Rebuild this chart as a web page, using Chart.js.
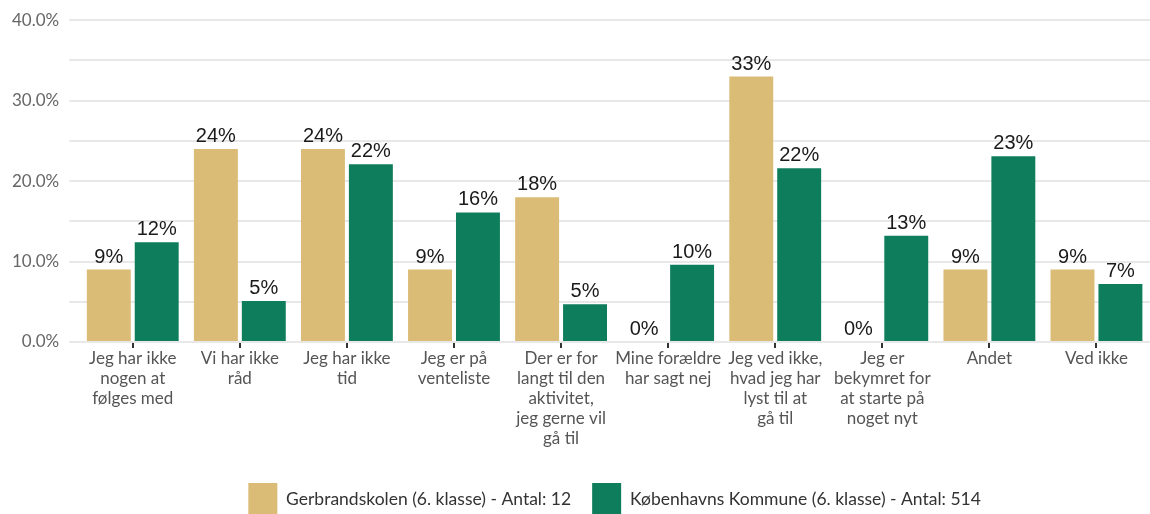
<!DOCTYPE html>
<html>
<head>
<meta charset="utf-8">
<script src="https://cdn.jsdelivr.net/npm/chart.js@4.4.1/dist/chart.umd.min.js"></script>
<style>
  html, body { margin: 0; padding: 0; background: #fff; overflow: hidden; }
  #wrap { width: 1150px; height: 525px; position: relative; }
</style>
</head>
<body>
<div id="wrap"><canvas id="myChart"></canvas></div>
<script>
// svarkategorier (linjeskift som i aksen)
const kategorier = [
  ['Jeg har ikke', 'nogen at', 'følges med'],
  ['Vi har ikke', 'råd'],
  ['Jeg har ikke', 'tid'],
  ['Jeg er på', 'venteliste'],
  ['Der er for', 'langt til den', 'aktivitet,', 'jeg gerne vil', 'gå til'],
  ['Mine forældre', 'har sagt nej'],
  ['Jeg ved ikke,', 'hvad jeg har', 'lyst til at', 'gå til'],
  ['Jeg er', 'bekymret for', 'at starte på', 'noget nyt'],
  ['Andet'],
  ['Ved ikke']
];

const skoleNavn = 'Gerbrandskolen (6. klasse) - Antal: 12';
const kommuneNavn = 'Københavns Kommune (6. klasse) - Antal: 514';

// andele i procent
const skole = [9, 24, 24, 9, 18, 0, 33, 0, 9, 9];
const kommune = [12.4, 5.1, 22.1, 16.1, 4.7, 9.6, 21.6, 13.2, 23.1, 7.2];

const yMax = 40;
const yStep = 5;

const farveSkole = '#dbbc77';
const farveKommune = '#0e7d5b';

Chart.defaults.font.family = 'Lato';

/*  Tal over hver søjle  */
const vaerdiLabels = {
  id: 'vaerdiLabels',
  afterDatasetsDraw(chart) {
    const ctx = chart.ctx;
    ctx.save();
    ctx.font = '20px "Liberation Sans"';
    ctx.fillStyle = '#1a1a1a';
    ctx.textAlign = 'center';
    ctx.textBaseline = 'alphabetic';
    chart.data.datasets.forEach((ds, i) => {
      chart.getDatasetMeta(i).data.forEach((bar, j) => {
        ctx.fillText(Math.round(ds.data[j]) + '%', bar.x, bar.y - 7);
      });
    });
    ctx.restore();
  }
};

/*  Forklaringen centreres under selve plotområdet  */
const centrerLegend = {
  id: 'centrerLegend',
  afterLayout(chart) {
    if (!chart.legend) return;
    chart.legend.left = chart.chartArea.left;
    chart.legend.right = chart.chartArea.right;
  }
};

new Chart(document.getElementById('myChart'), {
  type: 'bar',
  data: {
    labels: kategorier,
    datasets: [
      { label: skoleNavn, data: skole, backgroundColor: farveSkole },
      { label: kommuneNavn, data: kommune, backgroundColor: farveKommune }
    ]
  },
  options: {
    responsive: true,
    maintainAspectRatio: false,
    animation: false,
    layout: { padding: { left: 2, top: 12, right: 0, bottom: 0 } },
    datasets: {
      bar: { categoryPercentage: 0.895, barPercentage: 0.917 }
    },
    scales: {
      x: {
        grid: {
          offset: false,
          drawOnChartArea: false,
          drawTicks: true,
          tickLength: 6,
          color: '#333',
          lineWidth: 2
        },
        border: { display: false },
        ticks: {
          autoSkip: false,
          maxRotation: 0,
          padding: 1,
          color: '#555',
          font: { size: 17, lineHeight: '20px' }
        },
        // luft mellem aksetekst og forklaring
        afterFit: s => { s.height += 12; }
      },
      y: {
        min: 0,
        max: yMax,
        grid: { color: '#e8e8e8', lineWidth: 2, tickLength: 10 },
        border: { display: false },
        ticks: {
          stepSize: yStep,
          padding: 10,
          color: '#666',
          font: { size: 17 },
          callback: v => v % 10 === 0 ? v.toFixed(1) + '%' : ''
        }
      }
    },
    plugins: {
      tooltip: { enabled: false },
      legend: {
        position: 'bottom',
        labels: {
          boxWidth: 29,
          boxHeight: 32,
          padding: 21,
          color: '#333',
          font: { size: 17.5 }
        }
      }
    }
  },
  plugins: [vaerdiLabels, centrerLegend]
});
</script>
</body>
</html>
